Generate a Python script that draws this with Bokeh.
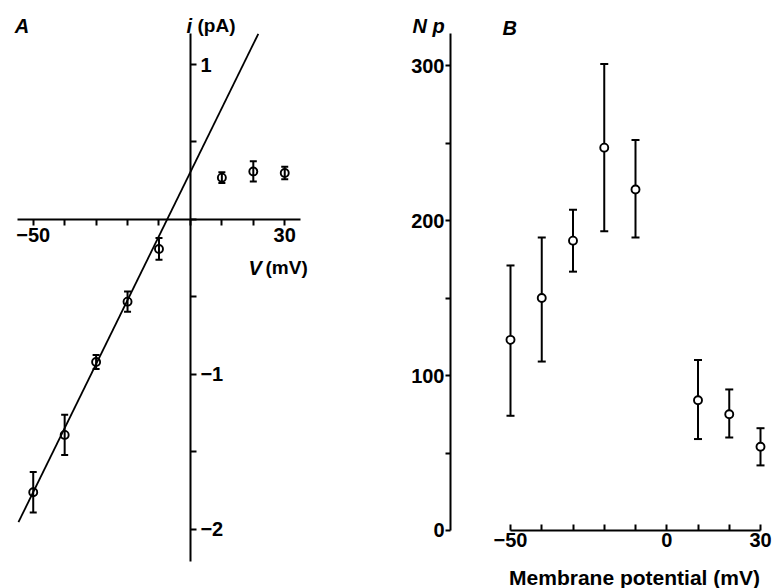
from bokeh.plotting import figure
from bokeh.models import LinearAxis, FixedTicker, Range1d
from bokeh.layouts import row
from bokeh.embed import file_html
from bokeh.resources import INLINE
from bokeh.core.properties import value

FONT_NAME = "Liberation Sans"
FONT = value(FONT_NAME)

# ---------------- Panel A data: single-channel current vs voltage ----------------
a_v = [-50, -40, -30, -20, -10, 10, 20, 30]
a_i = [-1.76, -1.39, -0.92, -0.53, -0.19, 0.27, 0.31, 0.30]
a_err = [0.13, 0.13, 0.045, 0.065, 0.07, 0.035, 0.065, 0.04]
fit_slope = 0.0413      # pA / mV
fit_intercept = 0.306   # pA
fit_v = [-54.7, 21.6]
a_xticks = [-50, -40, -30, -20, -10, 0, 10, 20, 30]
a_xlabels = {-50: "\u221250", 30: "30"}
a_yticks = [-2, -1.5, -1, -0.5, 0, 0.5, 1]
a_ylabels = {1: "1", -1: "\u22121", -2: "\u22122"}

# ---------------- Panel B data: N p vs membrane potential ----------------
b_v = [-50, -40, -30, -20, -10, 10, 20, 30]
b_np = [123, 150, 187, 247, 220, 84, 75, 54]
b_hi = [171, 189, 207, 301, 252, 110, 91, 66]
b_lo = [74, 109, 167, 193, 189, 59, 60, 42]
b_xticks = [-50, -40, -30, -20, -10, 0, 10, 20, 30]
b_xlabels = {-50: "\u221250", 0: "0", 30: "30"}
b_yticks = [0, 50, 100, 150, 200, 250, 300]
b_ylabels = {0: "0", 100: "100", 200: "200", 300: "300"}


def overrides(ticks, labels):
    return {t: labels.get(t, "") for t in ticks}


def make_axis(ticks, labels, **kw):
    ax = LinearAxis(
        ticker=FixedTicker(ticks=ticks),
        major_label_overrides=overrides(ticks, labels),
        minor_tick_line_color=None,
        axis_line_color="black",
        major_tick_line_color="black",
        axis_line_width=2,
        major_tick_line_width=2,
        major_label_text_font=FONT_NAME,
        major_label_text_font_size="20px",
        major_label_text_font_style="bold",
        major_label_text_color="black",
        **kw,
    )
    return ax


def base_fig(width, xr, yr):
    p = figure(width=width, height=588, x_range=Range1d(*xr), y_range=Range1d(*yr),
               output_backend="svg", toolbar_location=None,
               x_axis_location=None, y_axis_location=None,
               min_border=0, min_border_left=0, min_border_right=0,
               min_border_top=0, min_border_bottom=0)
    p.outline_line_color = None
    p.grid.visible = False
    p.background_fill_color = "white"
    p.border_fill_color = "white"
    return p


def label(p, x, y, txt, style, align="left", size="19px"):
    p.text(x=[x], y=[y], text=[txt], text_font=FONT, text_font_size=size,
           text_font_style=style, text_align=align, text_baseline="alphabetic",
           text_color="black")


# ================= Panel A =================
pA = base_fig(400, (-60.41, 66.82), (-2.381, 1.413))

axA_x = make_axis(a_xticks, a_xlabels, fixed_location=0, bounds=(-55, 35),
                  major_tick_in=0, major_tick_out=6, major_label_standoff=3)
pA.add_layout(axA_x, "below")
axA_y = make_axis(a_yticks, a_ylabels, fixed_location=0, bounds=(-2.21, 1.2),
                  major_tick_in=0, major_tick_out=6, major_label_standoff=4)
pA.add_layout(axA_y, "right")

fit_i = [fit_intercept + fit_slope * v for v in fit_v]
pA.line(fit_v, fit_i, line_color="black", line_width=1.8)

a_lo = [y - e for y, e in zip(a_i, a_err)]
a_hi = [y + e for y, e in zip(a_i, a_err)]
pA.segment(x0=a_v, y0=a_lo, x1=a_v, y1=a_hi, line_color="black", line_width=2)
pA.scatter(a_v, a_lo, marker="dash", size=7, line_color="black", line_width=2)
pA.scatter(a_v, a_hi, marker="dash", size=7, line_color="black", line_width=2)
pA.scatter(a_v, a_i, marker="circle", size=8, fill_color=None,
           line_color="black", line_width=1.9)

label(pA, -53.57, 1.251, "A", "bold italic", align="center", size="20px")
label(pA, -1.24, 1.251, "i", "bold italic", size="20px")
label(pA, 2.25, 1.251, "(pA)", "bold", size="19px")
label(pA, 18.47, -0.310, "V", "bold italic", size="20px")
label(pA, 23.88, -0.310, "(mV)", "bold", size="19px")

# ================= Panel B =================
pB = base_fig(373, (-85.2, 34.16), (-37.42, 341.94))

axB_y = make_axis(b_yticks, b_ylabels, fixed_location=-69.2, bounds=(0, 320.6),
                  major_tick_in=0, major_tick_out=5, major_label_standoff=1)
pB.add_layout(axB_y, "left")
axB_x = make_axis(b_xticks, b_xlabels, fixed_location=0, bounds=(-50, 30),
                  major_tick_in=6, major_tick_out=0, major_label_standoff=3)
pB.add_layout(axB_x, "below")

pB.segment(x0=b_v, y0=b_lo, x1=b_v, y1=b_hi, line_color="black", line_width=2)
pB.scatter(b_v, b_lo, marker="dash", size=8, line_color="black", line_width=2)
pB.scatter(b_v, b_hi, marker="dash", size=8, line_color="black", line_width=2)
pB.scatter(b_v, b_np, marker="circle", size=8, fill_color="white",
           line_color="black", line_width=1.9)

label(pB, -81.36, 325.8, "N", "bold italic", size="20px")
label(pB, -74.96, 325.8, "p", "bold italic", size="20px")
label(pB, -52.56, 324.5, "B", "bold italic", size="20px")
label(pB, -10.32, -30.3, "Membrane potential (mV)", "bold", align="center", size="21px")

layout = row(pA, pB)
open("out.html", "w").write(file_html(layout, INLINE))
